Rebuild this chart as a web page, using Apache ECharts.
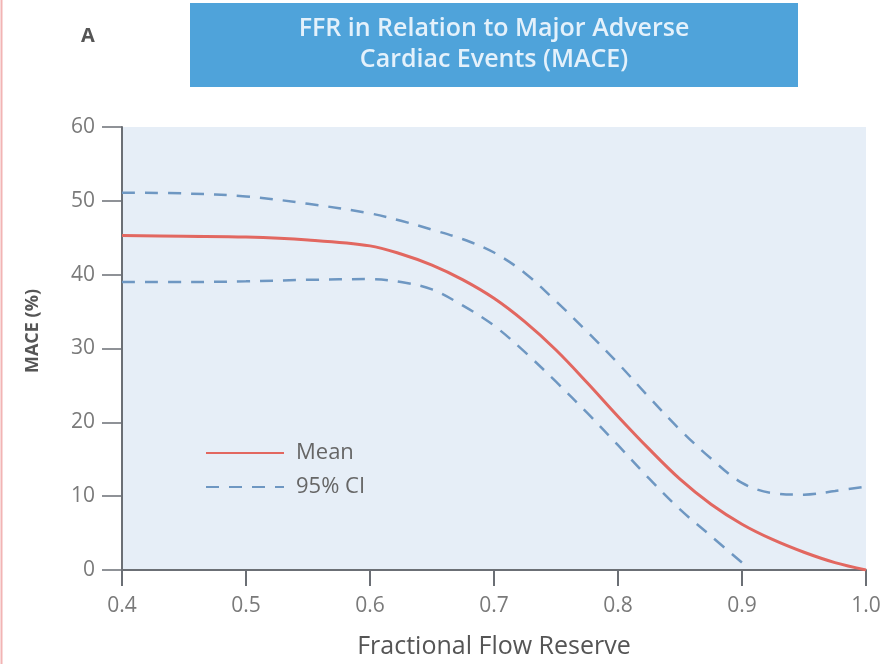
<!DOCTYPE html>
<html>
<head>
<meta charset="utf-8">
<script src="https://cdn.jsdelivr.net/npm/echarts@6/dist/echarts.min.js"></script>
<style>
html,body{margin:0;padding:0;background:#fff;}
#chart{width:886px;height:664px;}
</style>
</head>
<body>
<div id="chart"></div>
<script>
// Fractional Flow Reserve values (x)
const ffr = [0.4, 0.45, 0.5, 0.55, 0.6, 0.625, 0.65, 0.675, 0.7, 0.725, 0.75, 0.775, 0.8, 0.825, 0.85, 0.875, 0.9, 0.925, 0.95, 0.975, 1.0];
// MACE (%) mean curve
const meanMace = [45.3, 45.2, 45.1, 44.7, 43.9, 42.8, 41.3, 39.3, 36.8, 33.6, 29.8, 25.4, 20.8, 16.4, 12.3, 8.9, 6.2, 4.1, 2.4, 1.0, 0.0];
// upper 95% CI
const upperCI = [51.1, 51.0, 50.6, 49.6, 48.3, 47.3, 46.1, 44.8, 43.0, 40.2, 36.4, 32.3, 28.0, 23.4, 19.0, 15.1, 11.8, 10.4, 10.2, 10.7, 11.3];
// lower 95% CI (ends at 0.9)
const lowerCI = [39.0, 39.0, 39.1, 39.3, 39.4, 39.0, 38.0, 35.8, 33.1, 29.5, 25.5, 21.3, 16.9, 12.4, 8.2, 4.6, 1.0, null, null, null, null];
const xTickLabels = ['0.4', '0.5', '0.6', '0.7', '0.8', '0.9', '1.0'];
const yTickLabels = ['0', '10', '20', '30', '40', '50', '60'];

function pairs(ys) {
  const out = [];
  ys.forEach((y, i) => { if (y !== null) out.push([ffr[i], y]); });
  return out;
}

const chart = echarts.init(document.getElementById('chart'), null, {renderer: 'canvas'});
const ciColor = '#6e97c2';
const redColor = '#e26760';
const font = 'Open Sans';

chart.setOption({
  animation: false,
  backgroundColor: '#ffffff',
  grid: {
    left: 122, right: 20, top: 127, bottom: 92,
    show: true, backgroundColor: '#e6eef7', borderWidth: 0
  },
  xAxis: {
    type: 'value', min: 0.4, max: 1.0, interval: 0.1,
    name: 'Fractional Flow Reserve', nameLocation: 'middle', nameGap: 64,
    nameTextStyle: {fontFamily: font, fontSize: 25, color: '#555'},
    axisLine: {show: true, lineStyle: {color: '#6b6f75', width: 2}},
    axisTick: {show: true, length: 16, lineStyle: {color: '#6b6f75', width: 2}},
    axisLabel: {
      margin: 26, fontFamily: font, fontSize: 21, color: '#7a7a7a',
      formatter: v => xTickLabels[Math.round((v - 0.4) * 10)]
    },
    splitLine: {show: false}
  },
  yAxis: {
    type: 'value', min: 0, max: 60, interval: 10,
    axisLine: {show: true, lineStyle: {color: '#6b6f75', width: 2}},
    axisTick: {show: true, length: 20, lineStyle: {color: '#6b6f75', width: 1.5}},
    axisLabel: {
      margin: 27, fontFamily: font, fontSize: 21, color: '#7a7a7a',
      formatter: v => yTickLabels[Math.round(v / 10)]
    },
    splitLine: {show: false}
  },
  legend: {
    orient: 'vertical', left: 205, top: 442, padding: 0,
    itemWidth: 78, itemHeight: 14, itemGap: 12,
    itemStyle: {color: 'rgba(0,0,0,0)', borderWidth: 0, opacity: 0},
    data: ['Mean', '95% CI'],
    textStyle: {fontFamily: font, fontSize: 22, lineHeight: 22, color: '#666', padding: [0, 0, 0, 7]}
  },
  series: [
    {
      name: 'Mean', type: 'line', data: pairs(meanMace), smooth: 0.35,
      symbol: 'none', lineStyle: {color: redColor, width: 3}, itemStyle: {color: redColor}, z: 3
    },
    {
      name: '95% CI', type: 'line', data: pairs(upperCI), smooth: 0.35,
      symbol: 'none', lineStyle: {color: ciColor, width: 2.5, type: [13, 10]}, itemStyle: {color: ciColor}
    },
    {
      name: '95% CI', type: 'line', data: pairs(lowerCI), smooth: 0.35,
      symbol: 'none', lineStyle: {color: ciColor, width: 2.5, type: [13, 10]}, itemStyle: {color: ciColor}
    }
  ],
  graphic: [
    {type: 'line', shape: {x1: 1.5, y1: 0, x2: 1.5, y2: 664}, style: {stroke: '#f2b4b4', lineWidth: 2}},
    {type: 'rect', shape: {x: 190, y: 3, width: 608, height: 84}, style: {fill: '#4fa3da'}},
    {type: 'text', x: 494, y: 29, style: {text: 'FFR in Relation to Major Adverse', fontFamily: font, fontSize: 25, fontWeight: 600, fill: '#e4f1fb', textAlign: 'center', textVerticalAlign: 'middle'}},
    {type: 'text', x: 494, y: 60, style: {text: 'Cardiac Events (MACE)', fontFamily: font, fontSize: 25, fontWeight: 600, fill: '#e4f1fb', textAlign: 'center', textVerticalAlign: 'middle'}},
    {type: 'text', x: 88, y: 36, style: {text: 'A', fontFamily: font, fontSize: 20, fontWeight: 'bold', fill: '#555', textAlign: 'center', textVerticalAlign: 'middle'}},
    {type: 'text', x: 33, y: 331, rotation: Math.PI / 2, style: {text: 'MACE (%)', fontFamily: font, fontSize: 18, fontWeight: 'bold', fill: '#555', textAlign: 'center', textVerticalAlign: 'middle'}}
  ]
});
</script>
</body>
</html>
